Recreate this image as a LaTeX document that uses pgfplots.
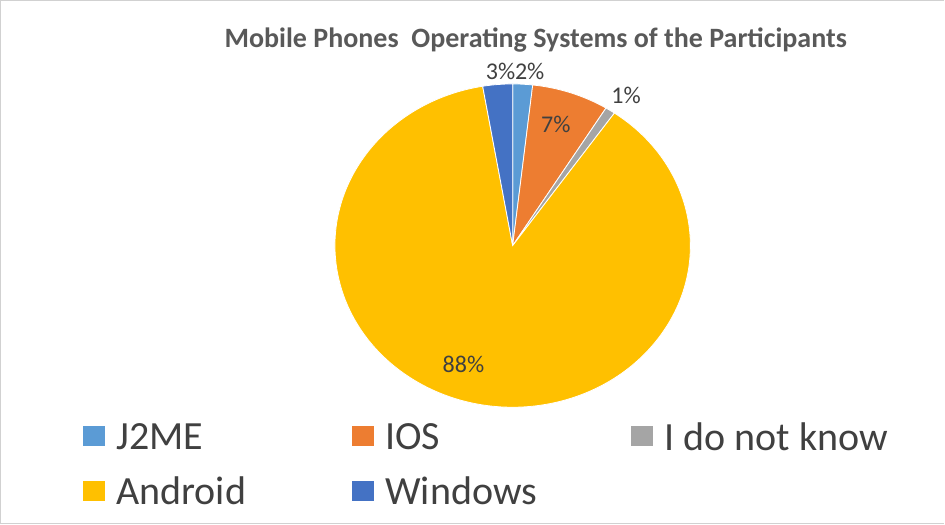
\documentclass[border=0pt]{standalone}
\usepackage{pgfplots}
\usepackage{pgfplotstable}
\pgfplotsset{compat=1.18}
\usepackage{fontspec}
\setmainfont{Carlito}

\definecolor{slice0}{HTML}{5B9BD5}% J2ME
\definecolor{slice1}{HTML}{ED7D31}% IOS
\definecolor{slice2}{HTML}{A5A5A5}% I do not know
\definecolor{slice3}{HTML}{FFC000}% Android
\definecolor{slice4}{HTML}{4472C4}% Windows
\definecolor{titlegray}{HTML}{595959}
\definecolor{labgray}{HTML}{404040}

\pgfplotstableread{
name    share
J2ME    1.8
IOS     7.0
IDK     0.9
Android 87.6
Windows 2.7
}\datatable

\def\cum{90}
\pgfplotstableforeachcolumnelement{share}\of\datatable\as\val{%
  \pgfmathsetmacro\endang{\cum-3.6*\val}%
  \expandafter\xdef\csname sa\pgfplotstablerow\endcsname{\cum}%
  \expandafter\xdef\csname ea\pgfplotstablerow\endcsname{\endang}%
  \xdef\cum{\endang}%
}

\begin{document}
\begin{tikzpicture}
\begin{axis}[
  width=945bp, height=527bp, scale only axis,
  xmin=0, xmax=945, ymin=0, ymax=527,
  hide axis, clip=false,
]
% frame
\draw[black!18, line width=1.2bp] (axis cs:945,523) -- (axis cs:5,523) -- (axis cs:5,2) -- (axis cs:945,2);
% pie wedges
\pgfplotsinvokeforeach{0,...,4}{%
  \fill[slice#1, draw=white, line width=0.8bp] (axis cs:515,279) -- ++(\csname sa#1\endcsname:177bp and 161bp)
    arc[start angle=\csname sa#1\endcsname, end angle=\csname ea#1\endcsname, x radius=177bp, y radius=161bp] -- cycle;
}
% title
\node[font=\fontsize{28}{32}\selectfont\bfseries, text=titlegray] at (axis cs:538,484) {Mobile Phones\ \ Operating Systems of the Participants};
% data labels
\begin{scope}[every node/.style={font=\fontsize{24}{28}\selectfont, text=labgray, inner sep=0pt}]
\node at (axis cs:532,452) {2\%};
\node at (axis cs:503,452) {3\%};
\node at (axis cs:628,429) {1\%};
\node at (axis cs:558,400) {7\%};
\node at (axis cs:466,161) {88\%};
\end{scope}
% legend
\begin{scope}[every node/.style={font=\fontsize{40}{46}\selectfont, text=labgray, anchor=west, inner sep=0pt}]
\fill[slice0] (axis cs:87,79) rectangle (axis cs:109,99);
\node at (axis cs:120,89) {J2ME};
\fill[slice1] (axis cs:355,79) rectangle (axis cs:377,99);
\node at (axis cs:388,89) {IOS};
\fill[slice2] (axis cs:633,79) rectangle (axis cs:655,99);
\node at (axis cs:666,89) {I do not know};
\fill[slice3] (axis cs:87,25) rectangle (axis cs:109,45);
\node at (axis cs:120,35) {Android};
\fill[slice4] (axis cs:355,25) rectangle (axis cs:377,45);
\node at (axis cs:388,35) {Windows};
\end{scope}
\end{axis}
\end{tikzpicture}
\end{document}
